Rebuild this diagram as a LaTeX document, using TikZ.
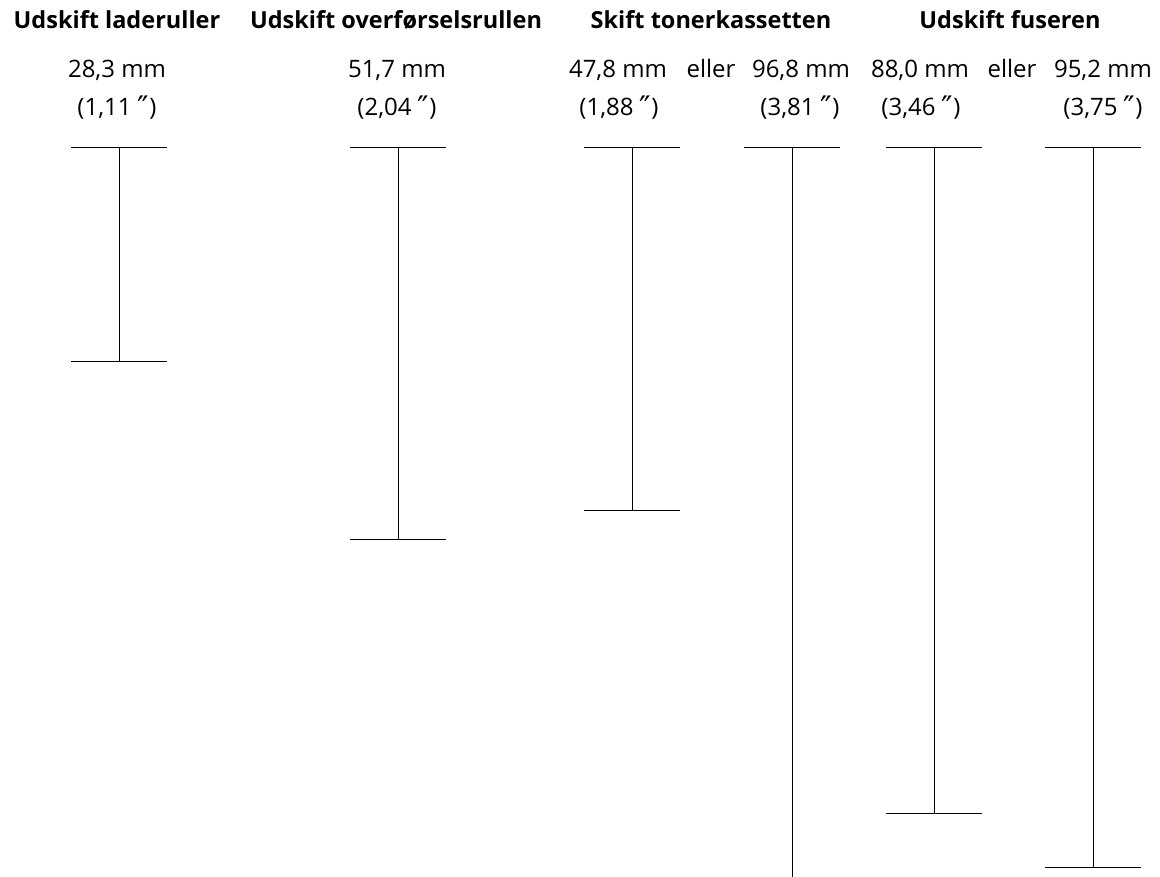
\documentclass[tikz,border=0pt]{standalone}
\usepackage{fontspec}
\setmainfont{Open Sans}
\newfontfamily\primefont{DejaVu Sans}
\newcommand{\inchmark}{{\primefont\fontsize{31}{31}\selectfont\raisebox{-2.5pt}{″}}}
\usetikzlibrary{positioning}

\begin{document}
\begin{tikzpicture}[x=1pt,y=-1pt]
    % Styles
    \tikzstyle{head} = [font=\fontsize{23.5}{27}\selectfont\bfseries, anchor=base, inner sep=0pt]
    \tikzstyle{size} = [font=\fontsize{24}{28}\selectfont, anchor=base, inner sep=0pt]
    \tikzstyle{gauge} = [line width=1pt]
    \useasboundingbox (0,0) rectangle (1160,877);
    % Headings
    \node[head] (lade_head) at (117,29) {Udskift laderuller};
    \node[head] (over_head) at (396,29) {Udskift overførselsrullen};
    \node[head] (toner_head) at (711,29) {Skift tonerkassetten};
    \node[head] (fuser_head) at (1010,29) {Udskift fuseren};
    % Sizes in mm and inch
    \node[size] (lade_mm) at (117,78) {28,3 mm};
    \node[size] (lade_in) at (117,116) {(1,11 \inchmark)};
    \node[size] (over_mm) at (397,78) {51,7 mm};
    \node[size] (over_in) at (397,116) {(2,04 \inchmark)};
    \node[size] (toner_a_mm) at (618,78) {47,8 mm};
    \node[size] (toner_or) at (711,78) {eller};
    \node[size] (toner_b_mm) at (801,78) {96,8 mm};
    \node[size] (toner_a_in) at (619,116) {(1,88 \inchmark)};
    \node[size] (toner_b_in) at (800,116) {(3,81 \inchmark)};
    \node[size] (fuser_a_mm) at (920,78) {88,0 mm};
    \node[size] (fuser_or) at (1012,78) {eller};
    \node[size] (fuser_b_mm) at (1103,78) {95,2 mm};
    \node[size] (fuser_a_in) at (921,116) {(3,46 \inchmark)};
    \node[size] (fuser_b_in) at (1103,116) {(3,75 \inchmark)};
    % Gauge ends
    \coordinate (lade_top) at (119,148);
    \coordinate (lade_bot) at (119,362);
    \coordinate (over_top) at (398,148);
    \coordinate (over_bot) at (398,539);
    \coordinate (toner_a_top) at (632,148);
    \coordinate (toner_a_bot) at (632,510);
    \coordinate (toner_b_top) at (792,148);
    \coordinate (toner_b_bot) at (792,877);
    \coordinate (fuser_a_top) at (934,148);
    \coordinate (fuser_a_bot) at (934,813);
    \coordinate (fuser_b_top) at (1093,148);
    \coordinate (fuser_b_bot) at (1093,867);
    % Gauges
    \draw[gauge] (lade_top) -- (lade_bot);
    \draw[gauge] ([xshift=-48pt]lade_top) -- ([xshift=48pt]lade_top);
    \draw[gauge] ([xshift=-48pt]lade_bot) -- ([xshift=48pt]lade_bot);
    \draw[gauge] (over_top) -- (over_bot);
    \draw[gauge] ([xshift=-48pt]over_top) -- ([xshift=48pt]over_top);
    \draw[gauge] ([xshift=-48pt]over_bot) -- ([xshift=48pt]over_bot);
    \draw[gauge] (toner_a_top) -- (toner_a_bot);
    \draw[gauge] ([xshift=-48pt]toner_a_top) -- ([xshift=48pt]toner_a_top);
    \draw[gauge] ([xshift=-48pt]toner_a_bot) -- ([xshift=48pt]toner_a_bot);
    \draw[gauge] (toner_b_top) -- (toner_b_bot); % runs off the page
    \draw[gauge] ([xshift=-48pt]toner_b_top) -- ([xshift=48pt]toner_b_top);
    \draw[gauge] (fuser_a_top) -- (fuser_a_bot);
    \draw[gauge] ([xshift=-48pt]fuser_a_top) -- ([xshift=48pt]fuser_a_top);
    \draw[gauge] ([xshift=-48pt]fuser_a_bot) -- ([xshift=48pt]fuser_a_bot);
    \draw[gauge] (fuser_b_top) -- (fuser_b_bot);
    \draw[gauge] ([xshift=-48pt]fuser_b_top) -- ([xshift=48pt]fuser_b_top);
    \draw[gauge] ([xshift=-48pt]fuser_b_bot) -- ([xshift=48pt]fuser_b_bot);
\end{tikzpicture}
\end{document}
